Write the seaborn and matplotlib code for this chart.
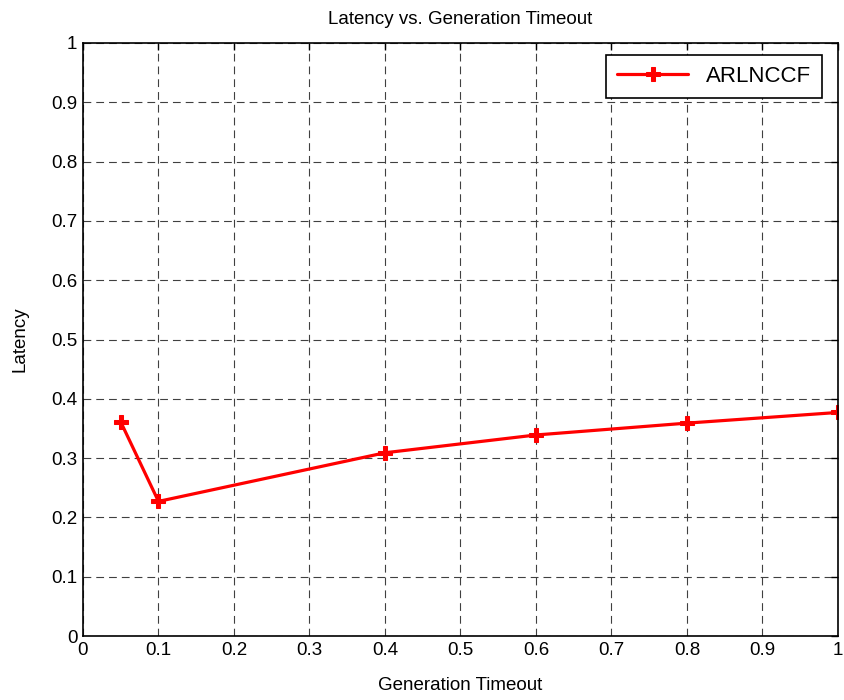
import matplotlib
matplotlib.use("Agg")
import matplotlib.pyplot as plt
import seaborn as sns
import pandas as pd

timeout = [0.05, 0.1, 0.4, 0.6, 0.8, 1.0]
latency = [0.361, 0.227, 0.309, 0.339, 0.359, 0.377]
series_name = "ARLNCCF"
x_ticks = [0, 0.1, 0.2, 0.3, 0.4, 0.5, 0.6, 0.7, 0.8, 0.9, 1]
y_ticks = [0, 0.1, 0.2, 0.3, 0.4, 0.5, 0.6, 0.7, 0.8, 0.9, 1]

sns.set_style("white")
plt.rcParams['font.family'] = ['Liberation Sans', 'DejaVu Sans']
plt.rcParams['text.color'] = 'black'
plt.rcParams['axes.labelcolor'] = 'black'
plt.rcParams['xtick.color'] = 'black'
plt.rcParams['ytick.color'] = 'black'

df = pd.DataFrame({"Generation Timeout": timeout, "Latency": latency, "series": series_name})

fig = plt.figure(figsize=(8.45, 7), dpi=100)
ax = fig.add_axes([0.0982, 0.0914, 0.8935, 0.8472])
sns.lineplot(data=df, x="Generation Timeout", y="Latency", hue="series",
             palette=["#ff0000"], marker="P", markersize=10, linewidth=2.3,
             markeredgecolor="#ff0000", ax=ax, legend=True)

ax.set_xlim(0, 1)
ax.set_ylim(0, 1)
ax.set_xticks(x_ticks)
ax.set_yticks(y_ticks)
ax.set_xticklabels([f"{t:g}" for t in x_ticks])
ax.set_yticklabels([f"{t:g}" for t in y_ticks])
ax.tick_params(axis='both', labelsize=13.5, direction='in', length=5, width=1,
               color='black', pad=4, top=True, right=True)
ax.grid(True, linestyle=(0, (7, 4.5)), color='0.25', linewidth=0.8)
for s in ax.spines.values():
    s.set_color('black')
    s.set_linewidth(1.2)
ax.set_xlabel("Generation Timeout", fontsize=13.5, labelpad=13)
ax.set_ylabel("Latency", fontsize=13.5, labelpad=16)
ax.set_title("Latency vs. Generation Timeout", fontsize=13.5, pad=14)

leg = ax.legend(loc="upper right", fontsize=16, frameon=True, fancybox=False,
                edgecolor='black', framealpha=1, handlelength=3.2, borderpad=0.5,
                handletextpad=0.8, borderaxespad=0,
                bbox_to_anchor=(0.979, 0.980))
leg.get_frame().set_linewidth(1.2)

fig.savefig("out.png", dpi=100)
